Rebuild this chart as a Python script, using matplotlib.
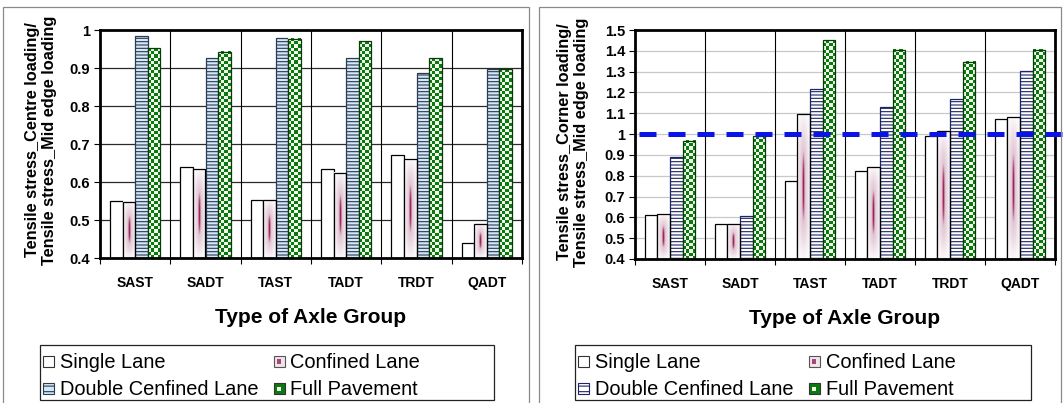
import numpy as np
import matplotlib
matplotlib.use("Agg")
import matplotlib.pyplot as plt
from matplotlib.colors import ListedColormap, LinearSegmentedColormap
from matplotlib.patches import Patch, Rectangle

plt.rcParams["font.family"] = ["Liberation Sans", "DejaVu Sans"]
plt.rcParams["hatch.linewidth"] = 0.8

axle_groups = ["SAST", "SADT", "TAST", "TADT", "TRDT", "QADT"]
series_names = ["Single Lane", "Confined Lane", "Double Cenfined Lane", "Full Pavement"]

# centre loading / mid edge loading
centre_single = [0.550, 0.640, 0.553, 0.633, 0.670, 0.440]
centre_confined = [0.548, 0.633, 0.553, 0.624, 0.660, 0.490]
centre_double = [0.983, 0.925, 0.980, 0.925, 0.888, 0.897]
centre_full = [0.952, 0.943, 0.977, 0.970, 0.925, 0.897]

# corner loading / mid edge loading
corner_single = [0.610, 0.570, 0.775, 0.825, 0.990, 1.073]
corner_confined = [0.615, 0.570, 1.095, 0.843, 1.017, 1.080]
corner_double = [0.888, 0.605, 1.218, 1.128, 1.168, 1.305]
corner_full = [0.967, 0.990, 1.450, 1.405, 1.348, 1.405]

W, H = 1063, 403
DPI = 100
BAR_W = 0.18
Y_MIN = 0.4

checker_cmap = ListedColormap(["#f3fbea", "#0a7a10"])
glow_cmap = LinearSegmentedColormap.from_list(
    "glow", [(0.0, "#ffffff"), (0.35, "#e4ccd8"), (0.7, "#b4557f"), (1.0, "#8e0f45")]
)


def fx(px):
    return px / W


def fy(py):
    return 1 - py / H


def glow_image(nx=40, ny=220):
    u = np.linspace(-1, 1, nx)[None, :]
    v = np.linspace(-1, 1, ny)[:, None]
    core = np.exp(-(u / 0.2) ** 2) * np.exp(-(np.abs(v) / 0.5) ** 3)
    haze = 0.42 * np.exp(-(u / 0.8) ** 2) * np.exp(-(np.abs(v) / 0.85) ** 4)
    return np.maximum(core, haze)


class SquareHandler:
    """Legend key: a small framed square, optionally with a hatch or an inner dot."""

    def __init__(self, face, edge, hatch=None, inner=None):
        self.face = face
        self.edge = edge
        self.hatch = hatch
        self.inner = inner

    def legend_artist(self, legend, orig_handle, fontsize, handlebox):
        x0, y0 = -handlebox.xdescent, -handlebox.ydescent
        side = min(handlebox.width, handlebox.height)
        outer = Rectangle((x0, y0), side, side, facecolor=self.face,
                          edgecolor=self.edge, hatch=self.hatch, linewidth=0.8,
                          transform=handlebox.get_transform())
        handlebox.add_artist(outer)
        if self.inner is not None:
            s = side * 0.4
            handlebox.add_artist(Rectangle((x0 + (side - s) / 2, y0 + (side - s) / 2), s, s,
                                           facecolor=self.inner, edgecolor="none",
                                           transform=handlebox.get_transform()))
        return outer


def draw_panel(ax, values, y_max, grid_color, double_face, double_edge):
    x = np.arange(len(axle_groups))
    single, confined, double, full = values

    bbox = ax.get_position()
    px_x = bbox.width * W / 6.0
    px_y = bbox.height * H / (y_max - Y_MIN)

    ax.bar(x - 1.5 * BAR_W, np.array(single) - Y_MIN, BAR_W, bottom=Y_MIN,
           facecolor="white", edgecolor="black", linewidth=0.9, zorder=3)

    # confined lane: white bar with a soft magenta streak in the middle
    glow = glow_image()
    for xi, h in zip(x, confined):
        x0 = xi - BAR_W
        ax.imshow(glow, cmap=glow_cmap, vmin=0, vmax=1, origin="lower",
                  extent=(x0, x0 + BAR_W, Y_MIN, h), interpolation="bilinear",
                  aspect="auto", zorder=3)
    ax.bar(x - 0.5 * BAR_W, np.array(confined) - Y_MIN, BAR_W, bottom=Y_MIN,
           facecolor="none", edgecolor="black", linewidth=0.9, zorder=4)

    ax.bar(x + 0.5 * BAR_W, np.array(double) - Y_MIN, BAR_W, bottom=Y_MIN,
           facecolor=double_face, edgecolor=double_edge, hatch="-----",
           linewidth=0.9, zorder=3)

    # full pavement: green checkerboard
    cell = BAR_W * px_x / 4.0
    for xi, h in zip(x, full):
        rows = max(1, int(round((h - Y_MIN) * px_y / cell)))
        board = (np.add.outer(np.arange(rows), np.arange(4)) % 2)
        x0 = xi + BAR_W
        ax.imshow(board, cmap=checker_cmap, vmin=0, vmax=1, origin="lower",
                  extent=(x0, x0 + BAR_W, Y_MIN, h), interpolation="nearest",
                  aspect="auto", zorder=3)
    ax.bar(x + 1.5 * BAR_W, np.array(full) - Y_MIN, BAR_W, bottom=Y_MIN,
           facecolor="none", edgecolor="#0a3a0a", linewidth=0.9, zorder=4)

    ax.set_xlim(-0.5, len(axle_groups) - 0.5)
    ax.set_ylim(Y_MIN, y_max)
    ax.set_aspect("auto")

    yticks = np.round(np.arange(Y_MIN, y_max + 0.001, 0.1), 1)
    ax.set_yticks(yticks)
    ax.set_yticklabels(["%g" % t for t in yticks], fontweight="bold", fontsize=10.5)
    for t in yticks[1:-1]:
        ax.axhline(t, color=grid_color, linewidth=0.9, zorder=1)

    # group separators, with the ticks on the boundaries
    bounds = np.arange(0.5, len(axle_groups) - 0.5, 1.0)
    for b in bounds:
        ax.axvline(b, color="black", linewidth=0.8, zorder=1)
    ax.set_xticks(np.arange(-0.5, len(axle_groups), 1.0))
    ax.set_xticklabels([])
    ax.set_xticks(x, minor=True)
    ax.set_xticklabels(axle_groups, minor=True, fontweight="bold", fontsize=10)
    ax.tick_params(axis="x", which="minor", length=0, pad=13)
    ax.tick_params(axis="x", which="major", length=4, direction="out")
    ax.tick_params(axis="y", length=4, direction="out", pad=3)

    for side in ["top", "right", "bottom", "left"]:
        ax.spines[side].set_linewidth(2.0)
        ax.spines[side].set_zorder(6)

    ax.set_xlabel("Type of Axle Group", fontweight="bold", fontsize=15, labelpad=13)


def draw_legend(fig, box_left, box_right, double_face, double_edge):
    handles = [Patch(label=name) for name in series_names]
    single_h, confined_h, double_h, full_h = handles
    handler_map = {
        single_h: SquareHandler("white", "#333333"),
        confined_h: SquareHandler("#f0e4ea", "#555555", inner="#a24a78"),
        double_h: SquareHandler(double_face, double_edge, hatch="---"),
        full_h: SquareHandler("#0a7a10", "#333333", inner="#f3fbea"),
    }
    # two columns, filled column by column
    order = [single_h, double_h, confined_h, full_h]
    fig.legend(order, [h.get_label() for h in order], ncol=2, loc="upper left",
               bbox_to_anchor=(fx(box_left + 3), fy(353)),
               frameon=False, fontsize=14.4, borderpad=0, borderaxespad=0,
               handlelength=0.55, handleheight=0.55, handletextpad=0.3,
               columnspacing=0.75, labelspacing=0.42, handler_map=handler_map)
    fig.add_artist(Rectangle((fx(box_left), fy(400)), fx(box_right - box_left),
                             (400 - 345) / H, transform=fig.transFigure,
                             facecolor="none", edgecolor="#222222", linewidth=0.9))


fig = plt.figure(figsize=(W / DPI, H / DPI), dpi=DPI)

# panel frames
for left, right in [(3, 529), (539, 1061)]:
    fig.add_artist(Rectangle((fx(left), -0.05), fx(right - left), fy(7) + 0.05,
                             transform=fig.transFigure, facecolor="none",
                             edgecolor="#8a8a8a", linewidth=0.9))

ax1 = fig.add_axes([fx(100), fy(258), fx(422), (258 - 30) / H])
draw_panel(ax1, [centre_single, centre_confined, centre_double, centre_full],
           1.0, "#2a2a2a", "#d4e8f7", "#2c3a52")

ax2 = fig.add_axes([fx(635), fy(259), fx(420), (259 - 30) / H])
draw_panel(ax2, [corner_single, corner_confined, corner_double, corner_full],
           1.5, "#c8c8c8", "white", "#1c2466")
ax2.plot([-0.45, 5.62], [1.0, 1.0], color="#0a14e6", linewidth=3.6,
         dashes=(3.4, 2.4), clip_on=False, zorder=7)

fig.text(fx(41), fy(140), "Tensile stress_Centre loading/\nTensile stress_Mid edge loading",
         rotation=90, ha="center", va="center", multialignment="center",
         fontweight="bold", fontsize=11.8, linespacing=1.12)
fig.text(fx(573), fy(142), "Tensile stress_Corner loading/\nTensile stress_Mid edge loading",
         rotation=90, ha="center", va="center", multialignment="center",
         fontweight="bold", fontsize=11.8, linespacing=1.12)

draw_legend(fig, 40, 494, "#d4e8f7", "#2c3a52")
draw_legend(fig, 575, 1031, "white", "#1c2466")

fig.savefig("out.png", dpi=DPI)
